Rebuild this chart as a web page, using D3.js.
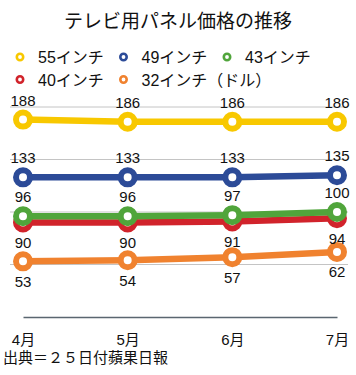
<!DOCTYPE html>
<html><head><meta charset="utf-8">
<script src="https://cdn.jsdelivr.net/npm/d3@7"></script>
<style>
html,body{margin:0;padding:0;background:#fff;}
text{font-family:"Liberation Sans","Noto Sans CJK JP",sans-serif;}
</style></head>
<body><svg id="c" width="356" height="375"></svg>
<script>
const title = "テレビ用パネル価格の推移";
const months = ["4月","5月","6月","7月"];
const seriesNames = ["55インチ","49インチ","43インチ","40インチ","32インチ（ドル）"];
const seriesColors = ["#F8C800","#2C4B98","#50A53B","#D1232B","#F0822F"];
const v55 = [188,186,186,186];
const v49 = [133,133,133,135];
const v43 = [96,96,97,100];
const v40 = [90,90,91,94];
const v32 = [53,54,57,62];
const labelPos = ["above","above","above","below","below"];
const gridTicks = [200,150,100,50];
const source = "出典＝２５日付蘋果日報";

const values = [v55,v49,v43,v40,v32];
const svg = d3.select("#c");
const x = d3.scalePoint().domain(months).range([23,337]);
const y = d3.scaleLinear().domain([0,200]).range([317,107]);

svg.append("text").attr("x",178).attr("y",28).attr("text-anchor","middle")
  .attr("font-size",19).attr("fill","#111").text(title);

// legend
seriesNames.forEach((n,i)=>{
  const col=i%3,row=Math.floor(i/3);
  const lx=20+col*103.5, ly=57+row*22.5;
  svg.append("circle").attr("cx",lx).attr("cy",ly).attr("r",3.2)
    .attr("fill","#fff").attr("stroke",seriesColors[i]).attr("stroke-width",2.6);
  svg.append("text").attr("x",lx+18).attr("y",ly+6).attr("font-size",16)
    .attr("fill","#111").text(n);
});

// grid
svg.append("g").selectAll("line").data(gridTicks).join("line")
  .attr("x1",10).attr("x2",348).attr("y1",d=>y(d)).attr("y2",d=>y(d))
  .attr("stroke","#c4c4c4").attr("stroke-width",1);

// axis
const ax = svg.append("g").attr("transform",`translate(0,${y(0)})`)
  .call(d3.axisBottom(x).tickSize(0).tickPadding(17));
ax.select(".domain").attr("stroke","#5a6670").attr("stroke-width",1.5);
ax.selectAll("text").attr("font-size",15).attr("fill","#111")
  .attr("font-family","'Liberation Sans','Noto Sans CJK JP',sans-serif");

const line = d3.line().x((d,j)=>x(months[j])).y(d=>y(d));
const order=[3,4,2,1,0];
order.forEach(i=>{
  const g=svg.append("g");
  g.append("path").datum(values[i]).attr("d",line).attr("fill","none")
    .attr("stroke",seriesColors[i]).attr("stroke-width",6.5);
  g.selectAll("circle").data(values[i]).join("circle")
    .attr("cx",(d,j)=>x(months[j])).attr("cy",d=>y(d)).attr("r",7)
    .attr("fill","#fff").attr("stroke",seriesColors[i]).attr("stroke-width",6);
});
values.forEach((vals,i)=>{
  svg.append("g").selectAll("text").data(vals).join("text")
    .attr("x",(d,j)=>x(months[j])).attr("y",d=>y(d)+(labelPos[i]==="above"?-14:25.5))
    .attr("text-anchor","middle").attr("font-size",15).attr("fill","#111").text(d=>d);
});

svg.append("text").attr("x",3).attr("y",363).attr("font-size",15)
  .attr("fill","#111").text(source);
</script></body></html>
